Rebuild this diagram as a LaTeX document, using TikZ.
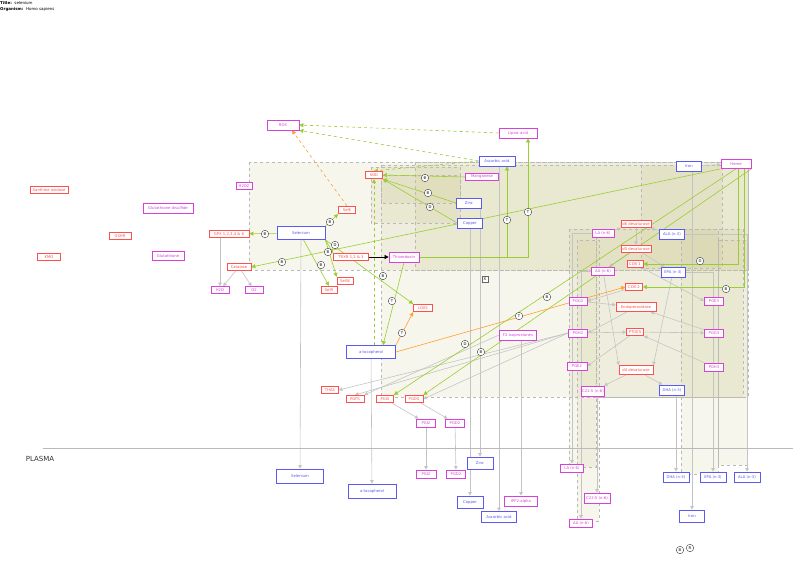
\documentclass[tikz,border=0pt]{standalone}
\usepackage{fontspec}
\setmainfont{DejaVu Sans}
\usetikzlibrary{arrows.meta,positioning,calc}
\definecolor{protred}{HTML}{FF5050}
\definecolor{metmag}{HTML}{D840D8}
\definecolor{ionblue}{HTML}{5A5AF0}
\definecolor{lnkgreen}{HTML}{9ACD32}
\definecolor{lnkorange}{HTML}{FFA030}
\definecolor{lnkgray}{HTML}{C4C4C4}
\definecolor{grpfill}{HTML}{C9C68E}
\pgfdeclarelayer{groups}
\pgfdeclarelayer{links}
\pgfsetlayers{groups,links,main}

\begin{document}
\begin{tikzpicture}[x=1pt,y=-1pt,
  box/.style={draw, line width=0.7pt, fill=white, inner sep=0pt, font=\fontsize{3.8}{4.2}\selectfont},
  prot/.style={box, draw=protred, text=protred, minimum height=7.5pt},
  metab/.style={box, draw=metmag, text=metmag, minimum height=8pt},
  ion/.style={box, draw=ionblue, text=ionblue, minimum height=10pt},
  grp/.style={draw=gray!55, dashed, line width=0.4pt, fill=grpfill, fill opacity=0.16},
  ctag/.style={circle, draw=black!75, fill=white, inner sep=0.3pt, minimum size=7.5pt, font=\fontsize{3.8}{4}\selectfont},
  act/.style={-{Triangle[length=4pt,width=4pt]}, draw=lnkgreen, line width=0.6pt},
  actd/.style={act, dashed},
  prom/.style={-{Triangle[length=4pt,width=4pt]}, draw=lnkorange, line width=0.6pt},
  flow/.style={-{Triangle[length=3.5pt,width=3.5pt]}, draw=lnkgray, line width=0.6pt},
  conv/.style={-{Triangle[length=4pt,width=4pt]}, draw=black, line width=0.6pt}
]
\useasboundingbox (0,0) rectangle (800,586);

% title
\node[anchor=west, font=\fontsize{4}{5}\selectfont, inner sep=0pt] (ttl) at (0,3) {\textbf{Title:}\ \ selenium};
\node[anchor=west, font=\fontsize{4}{5}\selectfont, inner sep=0pt] (org) at (0,9) {\textbf{Organism:}\ \ Homo sapiens};

% groups
\begin{pgfonlayer}{groups}
\draw[grp] (249,162) rectangle (748,270);
\draw[grp] (381,165) rectangle (748,397);
\draw[grp] (415,162) rectangle (748,270);
\draw[grp] (641,165) rectangle (722,268);
\draw[grp] (371,167) rectangle (460,223);
\draw[grp] (381,175) rectangle (460,203);
\draw[grp] (569,229) rectangle (596,467);
\draw[grp] (577,240) rectangle (599,521);
\draw[grp] (596,229) rectangle (743,397);
\draw[grp] (681,229) rectangle (718,474);
\draw[grp] (718,240) rectangle (747,465);
\end{pgfonlayer}

% plasma border
\draw[gray!55, line width=0.8pt] (43,448) -- (793,448);
\node[font=\fontsize{7}{8}\selectfont, text=black!80] (plasma) at (40,459) {PLASMA};

% left nodes
\node[prot, minimum width=38pt] (xo) at (49,190) {Xanthine oxidase};
\node[metab, minimum width=50pt, minimum height=10pt] (gssg) at (168,208) {Glutathione disulfide};
\node[prot, minimum width=22pt] (gshr) at (120,236) {GSHR};
\node[prot, minimum width=23pt] (kmo) at (49,257) {KMO};
\node[metab, minimum width=32pt, minimum height=9pt] (gsh) at (168,256) {Glutathione};
\node[metab, minimum width=16pt, minimum height=7pt] (h2o2) at (244,186) {H2O2};

% top
\node[metab, minimum width=32pt, minimum height=10pt] (ros) at (283,125) {ROS};
\node[prot, minimum width=17pt] (selk) at (347,210) {SelK};
\node[prot, minimum width=17pt] (sod) at (374,175) {SOD};
\node[metab, minimum width=38pt, minimum height=10pt] (lip) at (518,133) {Lipoic acid};
\node[ion, minimum width=36pt] (asc) at (497,161) {Ascorbic acid};
\node[metab, minimum width=33pt, minimum height=7pt] (mn) at (482,177) {Manganese};
\node[ion, minimum width=25pt] (zinc) at (469,203) {Zinc};
\node[ion, minimum width=25pt] (cu) at (470,223) {Copper};
\node[ion, minimum width=25pt] (iron) at (689,166) {Iron};
\node[metab, minimum width=30pt, minimum height=9pt] (heme) at (736,164) {Heme};

% selenium cluster
\node[ion, minimum width=48pt, minimum height=13pt] (selen) at (301,233) {Selenium};
\node[prot, minimum width=40pt] (gpx) at (229,234) {GPX 1,2,3,4 \& 6};
\node[prot, minimum width=24pt] (cat) at (239,267) {Catalase};
\node[metab, minimum width=18pt, minimum height=7pt] (h2o) at (220,290) {H2O};
\node[metab, minimum width=18pt, minimum height=7pt] (o2) at (254,290) {O2};
\node[prot, minimum width=35pt] (trxr) at (351,257) {TRXR 1,2 \& 3};
\node[metab, minimum width=30pt, minimum height=10pt] (thio) at (404,257) {Thioredoxin};
\node[prot, minimum width=16pt] (selw) at (345,281) {SelW};
\node[prot, minimum width=16pt] (selr) at (329,290) {SelR};
\node[prot, minimum width=19pt] (lox5) at (423,308) {LOX5};
\node[ion, minimum width=49pt, minimum height=13pt] (atoc) at (371,352) {a-tocopherol};
\node[metab, minimum width=37pt, minimum height=10pt] (f2iso) at (518,335) {F2-isoprostanes};
\node[prot, minimum width=17pt] (thas) at (330,390) {THAS};
\node[prot, minimum width=18pt] (pgfs) at (355,399) {PGFS};
\node[prot, minimum width=17pt] (pgis) at (385,399) {PGIS};
\node[prot, minimum width=18pt] (pgds) at (414,399) {PGDS};
\node[metab, minimum width=19pt] (pgi2) at (426,423) {PGI2};
\node[metab, minimum width=19pt] (pgd2) at (455,423) {PGD2};
\node[draw=black!60, fill=white, inner sep=0pt, minimum size=6.5pt, font=\fontsize{3.8}{4}\selectfont] (xbox) at (485,279) {X};

% fatty acids and eicosanoids
\node[metab, minimum width=22pt] (la) at (603,233) {LA (n-6)};
\node[prot, minimum width=30pt] (d6) at (636,224) {d6 desaturase};
\node[ion, minimum width=25pt] (ala) at (672,234) {ALA (n-3)};
\node[prot, minimum width=30pt] (d5) at (636,249) {d5 desaturase};
\node[metab, minimum width=23pt] (aa) at (603,271) {AA (n-6)};
\node[prot, minimum width=16pt] (cox1) at (635,264) {COX-1};
\node[ion, minimum width=24pt] (epa) at (673,272) {EPA (n-3)};
\node[prot, minimum width=17pt] (cox2) at (634,287) {COX-2};
\node[metab, minimum width=18pt] (pgg2) at (578,301) {PGG2};
\node[prot, minimum width=40pt, minimum height=9pt] (endo) at (636,307) {Endoperoxidase};
\node[metab, minimum width=19pt] (pge3) at (714,301) {PGE3};
\node[metab, minimum width=19pt] (pgh2) at (578,333) {PGH2};
\node[prot, minimum width=17pt] (ptges) at (635,332) {PTGES};
\node[metab, minimum width=19pt] (pgg3) at (714,333) {PGG3};
\node[metab, minimum width=20pt] (pge2) at (577,366) {PGE2};
\node[prot, minimum width=34pt, minimum height=9pt] (d4) at (636,370) {d4 desaturase};
\node[metab, minimum width=19pt] (pgh3) at (714,367) {PGH3};
\node[metab, minimum width=23pt, minimum height=10pt] (c225) at (593,391) {C22:5 (n-6)};
\node[ion, minimum width=25pt] (dha) at (672,390) {DHA (n-3)};

% plasma side
\node[ion, minimum width=47pt, minimum height=14pt] (pselen) at (300,476) {Selenium};
\node[ion, minimum width=48pt, minimum height=14pt] (patoc) at (372,491) {a-tocopherol};
\node[metab, minimum width=20pt] (ppgi2) at (426,474) {PGI2};
\node[metab, minimum width=19pt] (ppgd2) at (456,474) {PGD2};
\node[ion, minimum width=26pt, minimum height=12pt] (pzinc) at (480,463) {Zinc};
\node[ion, minimum width=26pt, minimum height=12pt] (pcu) at (470,502) {Copper};
\node[ion, minimum width=35pt, minimum height=11pt] (pasc) at (499,517) {Ascorbic acid};
\node[metab, minimum width=33pt, minimum height=10pt] (pipf) at (521,501) {IPF2-alpha};
\node[metab, minimum width=23pt] (pla) at (572,468) {LA (n-6)};
\node[metab, minimum width=26pt, minimum height=10pt] (pc225) at (597,498) {C22:5 (n-6)};
\node[metab, minimum width=23pt] (paa) at (581,523) {AA (n-6)};
\node[ion, minimum width=26pt] (pdha) at (676,477) {DHA (n-3)};
\node[ion, minimum width=26pt] (pepa) at (713,477) {EPA (n-3)};
\node[ion, minimum width=26pt] (pala) at (747,477) {ALA (n-3)};
\node[ion, minimum width=25pt, minimum height=12pt] (piron) at (692,516) {Iron};

\begin{pgfonlayer}{links}
% gray flows
\draw[flow] (gpx.south -| h2o.north) -- (h2o.north);
\draw[flow] (cat) -- (h2o);
\draw[flow] (cat) -- (o2);
\draw[flow] (iron) -- (heme);
\draw[flow] (la) -- (d6);
\draw[flow] (ala) -- (d6);
\draw[flow] (d6) -- (d5);
\draw[flow] (d5) -- (aa);
\draw[flow] (d5) -- (epa);
\draw[flow] (aa) -- (d4.north west);
\draw[flow] (epa) -- (d4.north east);
\draw[flow] (d4) -- (c225);
\draw[flow] (d4) -- (dha);
\draw[flow] (cox2) -- (pgg2.east);
\draw[flow] (cox1) -- (pge3.west);
\draw[flow] (pgg2) -- (endo);
\draw[flow] (endo) -- (pgh2.east);
\draw[flow] (pgg3) -- (endo);
\draw[flow] (pgh2) -- (ptges);
\draw[flow] (ptges) -- (pgg3);
\draw[flow] (pgh3) -- (ptges);
\draw[flow] (ptges) -- (pge2.east);
\draw[flow] (pgh2.west) -- (thas.east);
\draw[flow] (pgh2.west) -- (pgfs.north);
\draw[flow] (pgh2.west) -- (pgds.east);
\draw[flow] (f2iso.west) -- (pgfs.north east);
\draw[flow] (pgis) -- (pgi2);
\draw[flow] (pgds) -- (pgd2);
% to plasma
\draw[flow] (selen) -- (pselen);
\draw[flow] (atoc) -- (patoc);
\draw[flow] (pgi2) -- (ppgi2);
\draw[flow] (pgd2) -- (ppgd2);
\draw[flow] (zinc.south -| pzinc.north) -- (pzinc.north);
\draw[flow] (cu) -- (pcu);
\draw[flow] (asc.south -| pasc.north) -- (pasc.north);
\draw[flow] (f2iso.south -| pipf.north) -- (pipf.north);
\draw[flow] (la.west) -| (pla.north);
\draw[flow] (aa.west) -| (paa.north);
\draw[flow] (c225.south -| pc225.north) -- (pc225.north);
\draw[flow] (dha.south -| pdha.north) -- (pdha.north);
\draw[flow] (epa.east) -| (pepa.north);
\draw[flow] (ala.east) -| (pala.north);
\draw[flow] (iron.south -| piron.north) -- (piron.north);

% green activations
\draw[act] (selen) -- (gpx);
\draw[act] (selen.north east) -- (selk.south west);
\draw[act] (selen.south east) -- (trxr.north west);
\draw[act] (selen.south east) -- (selw.north west);
\draw[act] (selen.-70) -- (selr.north);
\draw[act] (selen.south east) -- (lox5.north west);
\draw[act] (thio.south) -- ($(atoc.north)+(12,0)$);
\draw[act] (thio.east) -| ($(asc.south)+(10,0)$);
\draw[act] (thio.east) -| ($(lip.south)+(10,0)$);
\draw[act] (mn.west) -- (sod.east);
\draw[act] (zinc.west) -- (sod.south east);
\draw[act] (cu.west) -- (sod.south east);
\draw[act] (heme.south west) -- (cat.east);
\draw[act] (heme.south) -- (pgis.north east);
\draw[act] (heme.south east) -- (pgds.north east);
\draw[act] ($(heme.south)+(2,0)$) |- (cox1.east);
\draw[act] ($(heme.south)+(8,0)$) |- (cox2.east);
\draw[actd] (lip.west) -- (ros.east);
\draw[actd] (asc.west) -- (ros.south east);
\draw[actd] (asc.west) -- (sod.north);
\draw[actd] (atoc.north -| sod.south) -- (sod.south);
\draw[conv] (trxr) -- (thio);
% orange
\draw[prom, dashed] (selk.north) -- ($(ros.south)+(9,0)$);
\draw[prom] (atoc.north east) -- (lox5.south west);
\draw[prom] (atoc.east) -- (cox2.west);
\end{pgfonlayer}

% tags
\node[ctag] (t1) at (265,234) {B};
\node[ctag] (t2) at (330,222) {B};
\node[ctag] (t3) at (335,245) {D};
\node[ctag] (t4) at (328,252) {B};
\node[ctag] (t5) at (321,265) {B};
\node[ctag] (t6) at (282,262) {B};
\node[ctag] (t7) at (383,276) {B};
\node[ctag] (t8) at (392,301) {T};
\node[ctag] (t9) at (402,333) {T};
\node[ctag] (t10) at (425,178) {B};
\node[ctag] (t11) at (428,193) {B};
\node[ctag] (t12) at (430,207) {D};
\node[ctag] (t13) at (507,220) {T};
\node[ctag] (t14) at (528,212) {T};
\node[ctag] (t15) at (465,344) {D};
\node[ctag] (t16) at (481,352) {B};
\node[ctag] (t17) at (519,316) {T};
\node[ctag] (t18) at (547,297) {B};
\node[ctag] (t19) at (700,261) {D};
\node[ctag] (t20) at (726,289) {B};
\node[ctag] (t21) at (680,550) {B};
\node[ctag] (t22) at (690,548) {R};
\end{tikzpicture}
\end{document}
